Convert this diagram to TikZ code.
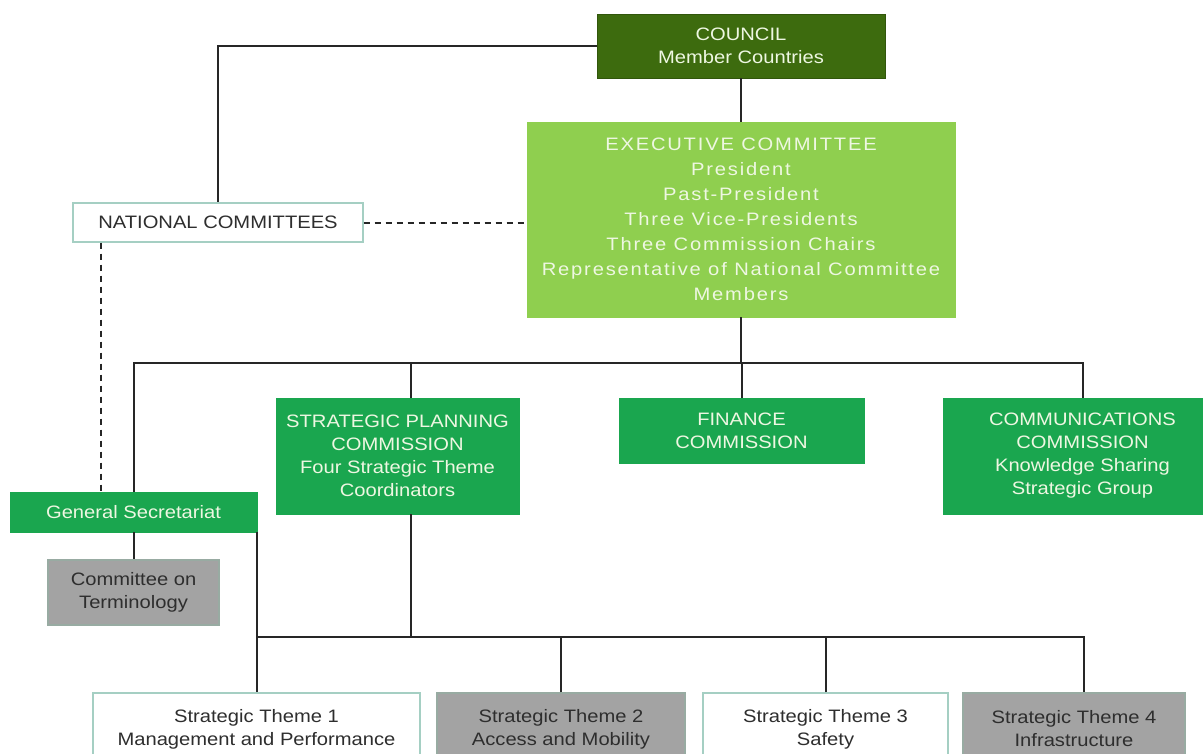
\documentclass[tikz,border=0pt]{standalone}
\usepackage{fontspec}
\setmainfont[FakeStretch=1.12]{Liberation Sans}
\usetikzlibrary{calc}
\definecolor{councilgreen}{HTML}{3D6B0E}
\definecolor{execgreen}{HTML}{8FCF4F}
\definecolor{midgreen}{HTML}{1AA64F}
\definecolor{boxgray}{HTML}{A3A3A3}
\definecolor{paletext}{HTML}{EEF7E2}
\definecolor{darktext}{HTML}{2E2E2E}
\definecolor{tealborder}{HTML}{A5CFC3}
\definecolor{grayborder}{HTML}{98ABA2}
\begin{document}
\begin{tikzpicture}[x=1pt,y=-1pt,
  base/.style={rectangle,inner sep=0pt,align=center,font=\fontsize{18}{23}\selectfont},
  council/.style={base,fill=councilgreen,draw=councilgreen!80!black,text=paletext},
  execbox/.style={base,fill=execgreen,draw=execgreen,text=paletext,
     font=\fontsize{18}{25}\selectfont\addfontfeature{LetterSpace=10}},
  greenbox/.style={base,fill=midgreen,draw=midgreen,text=paletext},
  whitebox/.style={base,fill=white,draw=tealborder,line width=1.4pt,text=darktext},
  graybox/.style={base,fill=boxgray,draw=grayborder,line width=1.4pt,text=darktext},
  conn/.style={draw=black!85,line width=2pt},
  dconn/.style={conn,dashed,dash pattern=on 6pt off 5pt}]
\useasboundingbox[fill=white] (0,0) rectangle (1203,753);

\node[council,minimum width=288,minimum height=64] (council) at (741,46) {COUNCIL\\Member Countries};
\node[execbox,minimum width=428,minimum height=195] (exec) at (741,219.5)
  {EXECUTIVE COMMITTEE\\President\\Past-President\\Three Vice-Presidents\\Three Commission Chairs\\Representative of National Committee\\Members};
\node[whitebox,minimum width=290,minimum height=39] (nc) at (218,222.5) {NATIONAL COMMITTEES};
\node[greenbox,minimum width=243,minimum height=116] (spc) at (397.5,456)
  {STRATEGIC PLANNING\\COMMISSION\\Four Strategic Theme\\Coordinators};
\node[greenbox,minimum width=245,minimum height=65] (fin) at (741.5,430.5) {FINANCE\\COMMISSION};
\node[greenbox,minimum width=279,minimum height=116] (comms) at (1082.5,456)
  {COMMUNICATIONS\\COMMISSION\\Knowledge Sharing\\Strategic Group};
\node[greenbox,minimum width=247,minimum height=40] (gs) at (133.5,512) {General Secretariat};
\node[graybox,minimum width=171,minimum height=65] (cot) at (133.5,592.5) {Committee on\\Terminology};
\node[whitebox,minimum width=327,minimum height=72] (t1) at (256.5,729) {Strategic Theme 1\\Management and Performance};
\node[graybox,minimum width=248,minimum height=72] (t2) at (561,729) {Strategic Theme 2\\Access and Mobility};
\node[whitebox,minimum width=245,minimum height=72] (t3) at (825.5,729) {Strategic Theme 3\\Safety};
\node[graybox,minimum width=222,minimum height=72] (t4) at (1074,729) {Strategic Theme 4\\Infrastructure};

\coordinate (bus) at (741,363);
\coordinate (tbus) at (741,637);

\draw[conn] (council.west) -| (nc.north);
\draw[conn] (council.south) -- (exec.north);
\draw[dconn] (nc.east) -- (nc.east -| exec.west);
\draw[dconn] ([xshift=29pt]nc.south west) -- ([xshift=29pt]nc.south west |- gs.north);
\draw[conn] (exec.south) -- (bus);
\draw[conn] (gs.north) |- (bus) -| (comms.north);
\draw[conn] ([xshift=13.5pt]spc.north) -- ([xshift=13.5pt]spc.north |- bus);
\draw[conn] (fin.north) -- (fin.north |- bus);
\draw[conn] (gs.south) -- (cot.north);
\draw[conn] (gs.south east) -- (gs.south east |- t1.north);
\draw[conn] ([xshift=13.5pt]spc.south) -- ([xshift=13.5pt]spc.south |- tbus);
\draw[conn] (gs.south east |- tbus) -| ([xshift=10pt]t4.north);
\draw[conn] (t2.north) -- (t2.north |- tbus);
\draw[conn] (t3.north) -- (t3.north |- tbus);
\end{tikzpicture}
\end{document}
